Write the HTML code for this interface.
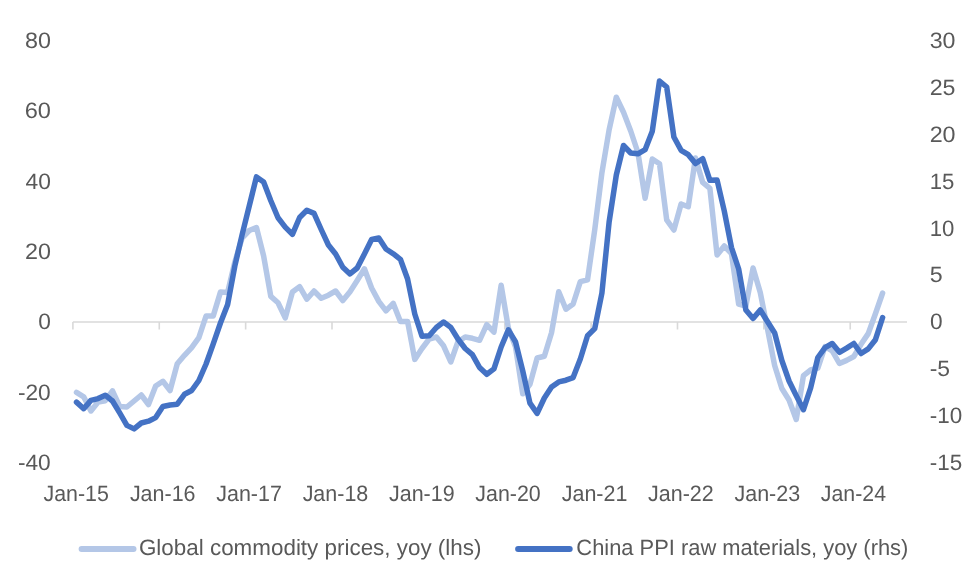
<!DOCTYPE html>
<html><head><meta charset="utf-8"><style>
html,body{margin:0;padding:0;background:#fff;width:980px;height:588px;overflow:hidden}
svg{display:block;will-change:transform}
</style></head><body>
<svg width="980" height="588" viewBox="0 0 980 588">
<rect width="980" height="588" fill="#fff"/>
<path d="M72.9 322H907M72.90 322V329.6M159.27 322V329.6M245.64 322V329.6M332.01 322V329.6M418.38 322V329.6M504.75 322V329.6M591.12 322V329.6M677.49 322V329.6M763.86 322V329.6M850.23 322V329.6" stroke="#D9D9D9" stroke-width="1.6" fill="none"/>
<g font-family="'Liberation Sans', sans-serif" font-size="22.2" fill="#595959" text-rendering="geometricPrecision">
<text transform="translate(24.95 48.15) scale(1.0505 1)">80</text>
<text transform="translate(24.67 118.42) scale(1.0622 1)">60</text>
<text transform="translate(25.49 188.69) scale(1.0280 1)">40</text>
<text transform="translate(24.95 258.96) scale(1.0505 1)">20</text>
<text transform="translate(38.13 329.23) scale(1.0233 1)">0</text>
<text transform="translate(17.88 399.50) scale(1.0248 1)">-20</text>
<text transform="translate(17.88 469.77) scale(1.0248 1)">-40</text>
<text transform="translate(929.65 48.15) scale(1.0462 1)">30</text>
<text transform="translate(929.65 95.01) scale(1.0462 1)">25</text>
<text transform="translate(929.65 141.87) scale(1.0505 1)">20</text>
<text transform="translate(929.65 188.73) scale(1.0000 1)">15</text>
<text transform="translate(929.65 235.59) scale(1.0000 1)">10</text>
<text transform="translate(929.65 282.45) scale(1.0476 1)">5</text>
<text transform="translate(929.93 329.31) scale(1.0233 1)">0</text>
<text transform="translate(929.67 376.17) scale(1.0310 1)">-5</text>
<text transform="translate(929.69 423.03) scale(1.0116 1)">-10</text>
<text transform="translate(929.69 469.89) scale(1.0116 1)">-15</text>
<text transform="translate(43.52 501.20) scale(0.9639 1)">Jan-15</text>
<text transform="translate(129.89 501.20) scale(0.9675 1)">Jan-16</text>
<text transform="translate(216.26 501.20) scale(0.9675 1)">Jan-17</text>
<text transform="translate(302.63 501.20) scale(0.9675 1)">Jan-18</text>
<text transform="translate(389.00 501.20) scale(0.9675 1)">Jan-19</text>
<text transform="translate(475.37 501.20) scale(0.9639 1)">Jan-20</text>
<text transform="translate(561.74 501.20) scale(0.9675 1)">Jan-21</text>
<text transform="translate(648.11 501.20) scale(0.9675 1)">Jan-22</text>
<text transform="translate(734.48 501.20) scale(0.9675 1)">Jan-23</text>
<text transform="translate(820.85 501.20) scale(0.9603 1)">Jan-24</text>
</g>
<polyline points="76.50,392.40 83.70,396.80 90.89,411.00 98.09,402.00 105.29,400.70 112.49,390.80 119.68,406.50 126.88,407.00 134.08,401.00 141.28,395.00 148.47,404.50 155.67,386.00 162.87,381.30 170.07,390.50 177.26,363.70 184.46,355.30 191.66,347.60 198.86,337.70 206.05,316.00 213.25,315.90 220.45,292.10 227.65,292.50 234.84,262.00 242.04,238.20 249.24,230.50 256.44,227.50 263.63,256.00 270.83,296.40 278.03,302.70 285.23,317.90 292.42,292.00 299.62,286.60 306.82,299.10 314.02,291.00 321.21,298.20 328.41,295.20 335.61,291.00 342.81,300.60 350.00,291.70 357.20,280.50 364.40,268.80 371.60,288.00 378.79,301.40 385.99,310.80 393.19,303.30 400.39,321.50 407.58,321.50 414.78,359.40 421.98,348.50 429.18,339.00 436.37,337.00 443.57,345.80 450.77,362.00 457.97,341.70 465.16,337.00 472.36,338.30 479.56,340.30 486.76,324.70 493.95,332.20 501.15,285.20 508.35,328.00 515.55,347.00 522.74,393.80 529.94,384.40 537.14,358.00 544.34,356.30 551.53,332.70 558.73,291.80 565.93,309.20 573.13,304.00 580.32,281.60 587.52,279.80 594.72,229.80 601.92,172.70 609.11,129.90 616.31,97.20 623.51,112.20 630.71,131.00 637.90,152.50 645.10,198.30 652.30,159.00 659.50,163.70 666.69,219.80 673.89,230.00 681.09,204.00 688.29,206.70 695.48,158.00 702.68,182.40 709.88,188.30 717.08,255.00 724.27,246.00 731.47,253.60 738.67,304.00 745.87,306.00 753.06,268.00 760.26,292.50 767.46,328.70 774.66,365.50 781.85,388.50 789.05,400.00 796.25,419.50 803.45,375.60 810.64,370.00 817.84,368.00 825.04,346.70 832.24,351.00 839.43,363.50 846.63,360.40 853.83,356.50 861.03,344.30 868.22,333.60 875.42,313.70 882.62,293.00" fill="none" stroke="#B4C7E7" stroke-width="5.5" stroke-linejoin="round" stroke-linecap="round"/>
<polyline points="76.50,402.10 83.70,408.70 90.89,400.40 98.09,398.60 105.29,395.20 112.49,401.00 119.68,412.90 126.88,425.40 134.08,428.90 141.28,423.00 148.47,421.20 155.67,417.60 162.87,406.50 170.07,405.00 177.26,404.20 184.46,394.30 191.66,390.50 198.86,380.50 206.05,364.00 213.25,343.80 220.45,323.00 227.65,304.40 234.84,266.00 242.04,235.00 249.24,206.00 256.44,176.90 263.63,182.00 270.83,200.70 278.03,217.80 285.23,227.10 292.42,234.40 299.62,217.50 306.82,210.30 314.02,213.40 321.21,229.50 328.41,245.00 335.61,254.00 342.81,267.20 350.00,273.90 357.20,268.00 364.40,254.00 371.60,239.50 378.79,238.00 385.99,249.00 393.19,253.70 400.39,259.30 407.58,279.00 414.78,314.00 421.98,336.20 429.18,335.80 436.37,327.50 443.57,322.00 450.77,327.40 457.97,339.00 465.16,348.50 472.36,354.60 479.56,367.50 486.76,374.30 493.95,368.90 501.15,347.00 508.35,329.80 515.55,342.00 522.74,370.80 529.94,403.20 537.14,413.40 544.34,398.00 551.53,387.00 558.73,381.90 565.93,380.20 573.13,377.60 580.32,359.00 587.52,335.70 594.72,328.60 601.92,293.00 609.11,222.00 616.31,175.00 623.51,145.50 630.71,153.00 637.90,153.80 645.10,149.70 652.30,131.20 659.50,81.00 666.69,87.00 673.89,137.00 681.09,150.30 688.29,154.70 695.48,163.60 702.68,158.70 709.88,180.30 717.08,180.00 724.27,211.00 731.47,247.50 738.67,269.00 745.87,310.00 753.06,318.50 760.26,310.00 767.46,321.50 774.66,333.00 781.85,360.50 789.05,381.00 796.25,395.60 803.45,409.70 810.64,387.90 817.84,357.50 825.04,347.60 832.24,343.50 839.43,352.30 846.63,348.10 853.83,343.50 861.03,353.50 868.22,348.90 875.42,339.70 882.62,317.50" fill="none" stroke="#4472C4" stroke-width="5.5" stroke-linejoin="round" stroke-linecap="round"/>
<line x1="81.6" y1="548.9" x2="133.5" y2="548.9" stroke="#B4C7E7" stroke-width="6" stroke-linecap="round"/>
<line x1="518.1" y1="548.9" x2="569.7" y2="548.9" stroke="#4472C4" stroke-width="6" stroke-linecap="round"/>
<g font-family="'Liberation Sans', sans-serif" font-size="22.2" fill="#595959" text-rendering="geometricPrecision">
<text transform="translate(138.94 555.30) scale(1.0101 1)">Global commodity prices, yoy (lhs)</text>
<text transform="translate(576.37 555.30) scale(0.9862 1)">China PPI raw materials, yoy (rhs)</text>
</g>
</svg>
</body></html>
